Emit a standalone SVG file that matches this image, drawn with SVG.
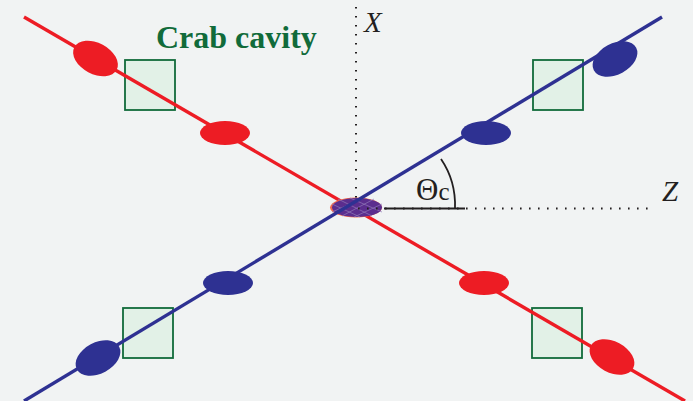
<svg xmlns="http://www.w3.org/2000/svg" width="693" height="401" viewBox="0 0 693 401">
<style>
.cav{fill:#e2f1e7;stroke:#116b3a;stroke-width:1.800}
.r{fill:#ed1c24}.b{fill:#2e3192}
.lr{stroke:#ed1c24;stroke-width:3.400;fill:none}
.lb{stroke:#2e3192;stroke-width:3.400;fill:none}
.dot{stroke:#231f20;stroke-width:2;stroke-dasharray:1.600 7.400;fill:none}
.t{font-family:"Liberation Serif",serif;fill:#231f20}
</style>
<rect width="693" height="401" fill="#f1f3f3"/>
<g id="cavity-tl"><rect class="cav" x="125" y="60" width="50" height="50"/></g>
<g id="cavity-tr"><rect class="cav" x="533" y="60" width="50" height="50"/></g>
<g id="cavity-bl"><rect class="cav" x="123" y="308" width="50" height="50"/></g>
<g id="cavity-br"><rect class="cav" x="532" y="308" width="50" height="50"/></g>
<g id="connectors">
<path class="lr" d="M24 17L685 401"/>
<path d="M384 208.500H465" stroke="#231f20" stroke-width="1.800" fill="none"/>
<path d="M441 159Q456 181 455 208.500" stroke="#231f20" stroke-width="1.800" fill="none"/>
</g>
<g id="bunch-center">
<ellipse cx="356" cy="207.500" rx="26" ry="10" fill="#f26a4f"/>
<ellipse cx="357" cy="207.500" rx="25" ry="9.500" fill="#5b2d8e"/>
<path d="M338 199L372 216M350 198L382 212M332 204L360 217M374 199L342 216M364 198L332 212M382 204L354 217" stroke="#8f79b8" stroke-width=".7" fill="none"/>
</g>
<g id="connector-blue"><path class="lb" d="M24 401L662 17"/></g>
<g id="axes">
<path class="dot" d="M356 7V205"/>
<path class="dot" d="M358 208.500H655"/>
</g>
<g id="bunch-r1"><ellipse class="r" cx="95.500" cy="58.500" rx="24" ry="15.500" transform="rotate(28 95.500 58.500)"/></g>
<g id="bunch-r2"><ellipse class="r" cx="225" cy="133" rx="25" ry="12"/></g>
<g id="bunch-r3"><ellipse class="r" cx="484" cy="283" rx="25" ry="12"/></g>
<g id="bunch-r4"><ellipse class="r" cx="612" cy="357" rx="24" ry="15.500" transform="rotate(28 612 357)"/></g>
<g id="bunch-b1"><ellipse class="b" cx="615" cy="59" rx="24" ry="15.500" transform="rotate(-28 615 59)"/></g>
<g id="bunch-b2"><ellipse class="b" cx="486" cy="133" rx="25" ry="12"/></g>
<g id="bunch-b3"><ellipse class="b" cx="228" cy="283" rx="25" ry="12"/></g>
<g id="bunch-b4"><ellipse class="b" cx="98" cy="358" rx="24" ry="15.500" transform="rotate(-28 98 358)"/></g>
<g id="labels">
<text x="156" y="48" font-family="Liberation Serif, serif" font-weight="bold" font-size="32" fill="#116b3a">Crab cavity</text>
<text class="t" x="364" y="32" font-size="29" font-style="italic">X</text>
<text class="t" x="662" y="201" font-size="29" font-style="italic">Z</text>
<text class="t" x="416" y="200" font-size="31">Θ<tspan font-size="25">c</tspan></text>
</g>
</svg>
